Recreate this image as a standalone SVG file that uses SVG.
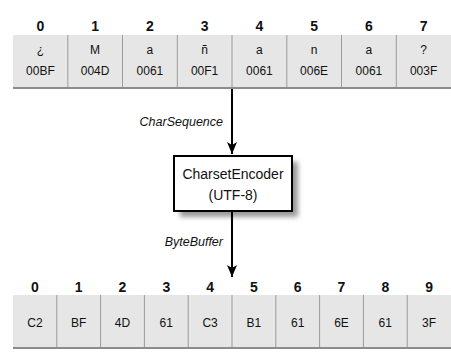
<svg xmlns="http://www.w3.org/2000/svg" width="451" height="354" viewBox="0 0 451 354">
<defs>
<marker id="ah" markerWidth="12" markerHeight="10" refX="12" refY="5" orient="auto" markerUnits="userSpaceOnUse" viewBox="0 0 12 10">
<path d="M0,0 L12,5 L0,10 L3,5 Z" fill="#000"/>
</marker>
<filter id="sh" x="-20%" y="-20%" width="150%" height="150%">
<feGaussianBlur stdDeviation="2.5"/>
</filter>
</defs>
<style>
.cell{fill:#e6e6e6;stroke:none}
.div{stroke:#9a9a9a;stroke-width:1}
.base{stroke:#8c8c8c;stroke-width:2}
.idx{font-family:"Liberation Sans",Arial,sans-serif;font-size:14px;font-weight:bold;fill:#111;text-anchor:middle}
.ch{font-family:"Liberation Sans",Arial,sans-serif;font-size:12px;fill:#111;text-anchor:middle}
.val{font-family:"Liberation Sans",Arial,sans-serif;font-size:12px;fill:#111;text-anchor:middle}
.lbl{font-family:"Liberation Sans",Arial,sans-serif;font-size:12.5px;font-style:italic;fill:#111;text-anchor:end}
.box{font-family:"Liberation Sans",Arial,sans-serif;font-size:14px;fill:#111;text-anchor:middle}
.con{stroke:#000;stroke-width:2;fill:none}
</style>

<g id="chars">
<rect class="cell" x="13" y="35" width="438" height="52"/>
<line class="base" x1="13" y1="88" x2="451" y2="88"/>
<g class="div">
<line x1="67.8" y1="35" x2="67.8" y2="87"/>
<line x1="122.5" y1="35" x2="122.5" y2="87"/>
<line x1="177.3" y1="35" x2="177.3" y2="87"/>
<line x1="232" y1="35" x2="232" y2="87"/>
<line x1="286.8" y1="35" x2="286.8" y2="87"/>
<line x1="341.5" y1="35" x2="341.5" y2="87"/>
<line x1="396.3" y1="35" x2="396.3" y2="87"/>
</g>
<text class="idx" x="40.4" y="31">0</text>
<text class="idx" x="95.1" y="31">1</text>
<text class="idx" x="149.9" y="31">2</text>
<text class="idx" x="204.6" y="31">3</text>
<text class="idx" x="259.4" y="31">4</text>
<text class="idx" x="314.1" y="31">5</text>
<text class="idx" x="368.9" y="31">6</text>
<text class="idx" x="423.6" y="31">7</text>
<text class="ch" x="40.4" y="54">¿</text>
<text class="ch" x="95.1" y="54">M</text>
<text class="ch" x="149.9" y="54">a</text>
<text class="ch" x="204.6" y="54">ñ</text>
<text class="ch" x="259.4" y="54">a</text>
<text class="ch" x="314.1" y="54">n</text>
<text class="ch" x="368.9" y="54">a</text>
<text class="ch" x="423.6" y="54">?</text>
<text class="val" x="40.4" y="75">00BF</text>
<text class="val" x="95.1" y="75">004D</text>
<text class="val" x="149.9" y="75">0061</text>
<text class="val" x="204.6" y="75">00F1</text>
<text class="val" x="259.4" y="75">0061</text>
<text class="val" x="314.1" y="75">006E</text>
<text class="val" x="368.9" y="75">0061</text>
<text class="val" x="423.6" y="75">003F</text>
</g>

<g id="encoder">
<rect x="180" y="162" width="118" height="55" fill="#9a9a9a" filter="url(#sh)"/>
<rect x="174" y="156" width="118" height="55" fill="#fff" stroke="#000" stroke-width="2"/>
<text class="box" x="233" y="179">CharsetEncoder</text>
<text class="box" x="233" y="200">(UTF-8)</text>
</g>

<g id="bytes">
<rect class="cell" x="13" y="295" width="438" height="52"/>
<line class="base" x1="13" y1="348" x2="451" y2="348"/>
<g class="div">
<line x1="56.8" y1="295" x2="56.8" y2="347"/>
<line x1="100.6" y1="295" x2="100.6" y2="347"/>
<line x1="144.4" y1="295" x2="144.4" y2="347"/>
<line x1="188.2" y1="295" x2="188.2" y2="347"/>
<line x1="232" y1="295" x2="232" y2="347"/>
<line x1="275.8" y1="295" x2="275.8" y2="347"/>
<line x1="319.6" y1="295" x2="319.6" y2="347"/>
<line x1="363.4" y1="295" x2="363.4" y2="347"/>
<line x1="407.2" y1="295" x2="407.2" y2="347"/>
</g>
<text class="idx" x="34.9" y="292">0</text>
<text class="idx" x="78.7" y="292">1</text>
<text class="idx" x="122.5" y="292">2</text>
<text class="idx" x="166.3" y="292">3</text>
<text class="idx" x="210.1" y="292">4</text>
<text class="idx" x="253.9" y="292">5</text>
<text class="idx" x="297.7" y="292">6</text>
<text class="idx" x="341.5" y="292">7</text>
<text class="idx" x="385.3" y="292">8</text>
<text class="idx" x="429.1" y="292">9</text>
<text class="val" x="34.9" y="327">C2</text>
<text class="val" x="78.7" y="327">BF</text>
<text class="val" x="122.5" y="327">4D</text>
<text class="val" x="166.3" y="327">61</text>
<text class="val" x="210.1" y="327">C3</text>
<text class="val" x="253.9" y="327">B1</text>
<text class="val" x="297.7" y="327">61</text>
<text class="val" x="341.5" y="327">6E</text>
<text class="val" x="385.3" y="327">61</text>
<text class="val" x="429.1" y="327">3F</text>
</g>

<g id="connectors">
<line class="con" x1="232" y1="89" x2="232" y2="154" marker-end="url(#ah)"/>
<line class="con" x1="232" y1="212" x2="232" y2="277" marker-end="url(#ah)"/>
<text class="lbl" x="223" y="126">CharSequence</text>
<text class="lbl" x="223" y="246">ByteBuffer</text>
</g>
</svg>
